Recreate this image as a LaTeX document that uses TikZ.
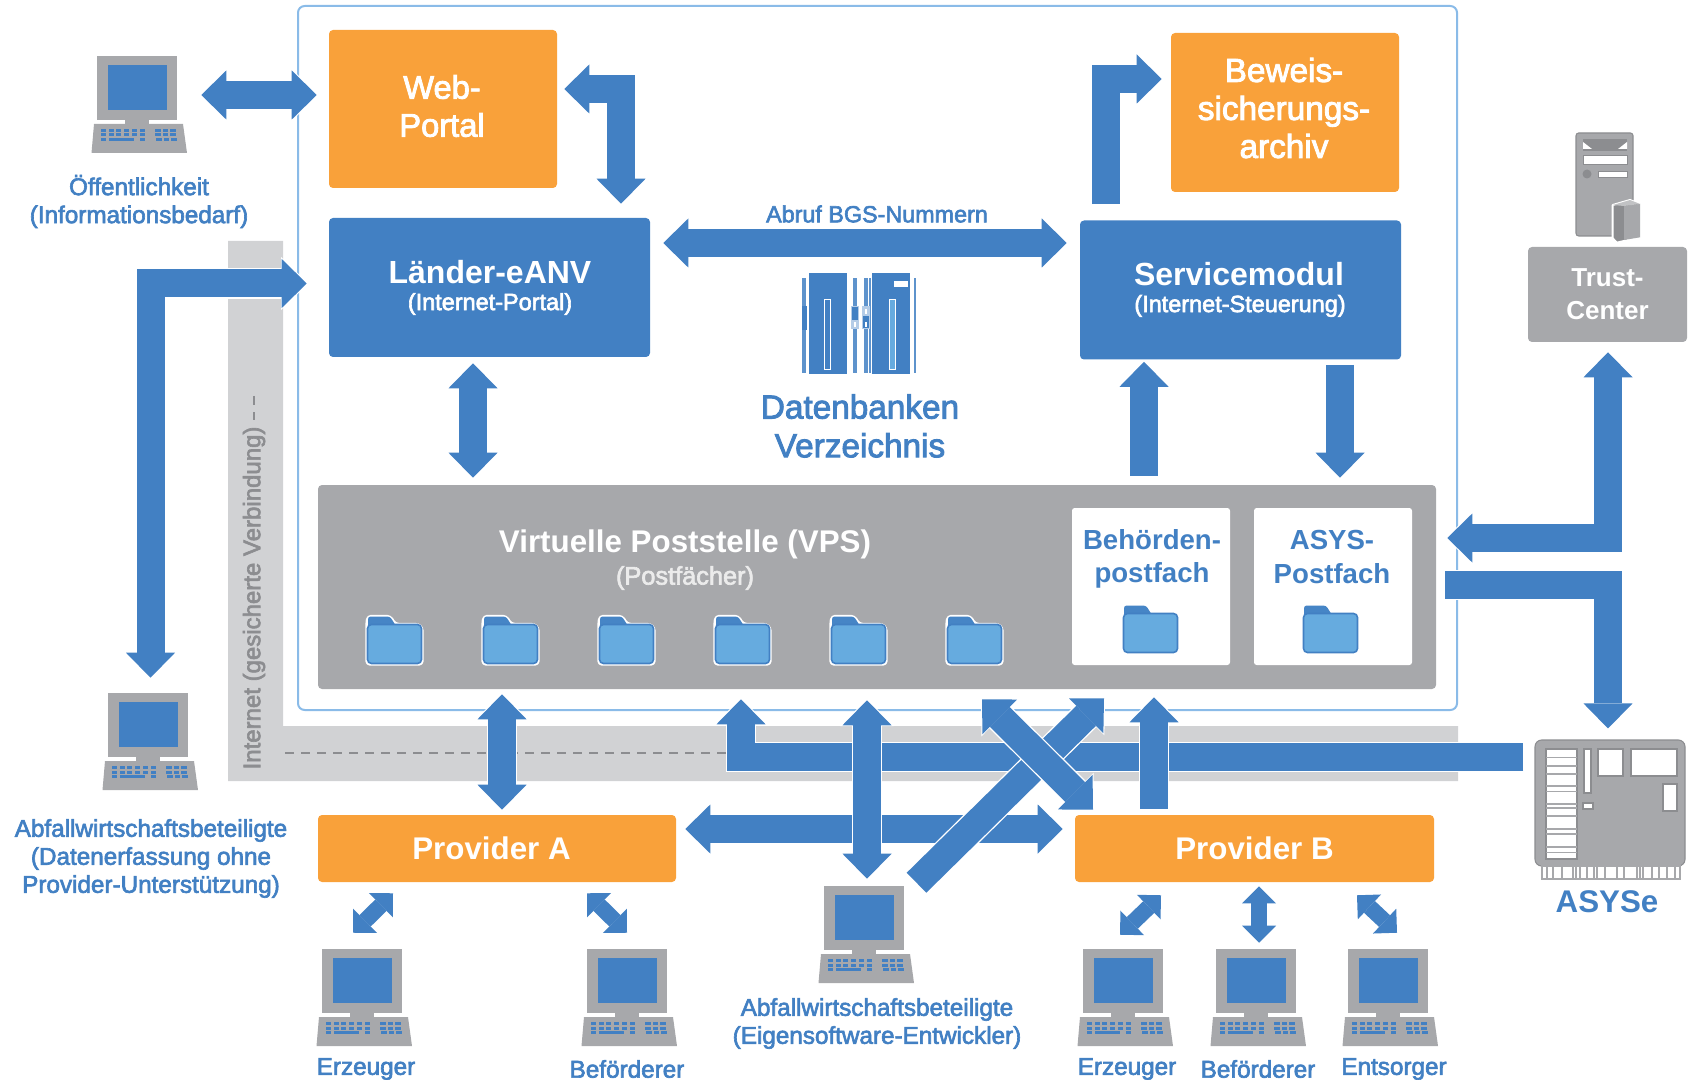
\documentclass[tikz,border=0pt]{standalone}
\usepackage{fontspec}
\setmainfont{Liberation Sans}
\newfontfamily\medfont[FakeBold=2.6]{Liberation Sans}
\usetikzlibrary{arrows.meta}
\definecolor{cblue}{HTML}{4280C3}
\definecolor{corange}{HTML}{F9A13A}
\definecolor{cgray}{HTML}{A7A8AB}
\definecolor{cband}{HTML}{D1D2D4}
\definecolor{cframe}{HTML}{8ABBE8}
\definecolor{cfolder}{HTML}{66ABDF}
\definecolor{cdark}{HTML}{8C8D90}
\tikzset{
  box/.style={inner sep=0pt,rounded corners=3pt,align=center,text=white},
  orangebox/.style={box,fill=corange},
  bluebox/.style={box,fill=cblue},
  graybox/.style={box,fill=cgray},
  whitebox/.style={inner sep=0pt,rounded corners=2pt,fill=white},
  ghost/.style={inner sep=0pt,minimum width=72pt,minimum height=72.75pt},
  lab/.style={inner sep=0pt,align=center,text=cblue},
  wlab/.style={inner sep=0pt,align=center,text=white},
  Bbase/.style={draw=cblue,line width=21pt,line join=miter,line cap=butt},
  bigbi/.style={Bbase,{Triangle[length=18.75pt,width=36.75pt,line width=0pt]}-{Triangle[length=18.75pt,width=36.75pt,line width=0pt]},
    preaction={draw=white,line width=23pt,shorten >=-1.2pt,shorten <=-1.2pt,{Triangle[length=20.5pt,width=40pt,line width=0pt]}-{Triangle[length=20.5pt,width=40pt,line width=0pt]}}},
  bigone/.style={Bbase,-{Triangle[length=18.75pt,width=36.75pt,line width=0pt]},
    preaction={draw=white,line width=23pt,shorten >=-1.2pt,-{Triangle[length=20.5pt,width=40pt,line width=0pt]}}},
  smallbi/.style={draw=cblue,line width=12pt,line join=miter,{Triangle[length=12.75pt,width=25.5pt,line width=0pt]}-{Triangle[length=12.75pt,width=25.5pt,line width=0pt]}},
}
\newcommand\Flab{\medfont\fontsize{18.2}{21}\selectfont}
\newcommand\pccomputer[3]{%
  \node[ghost] (#1) at (#2+42.5,#3+48.5) {};
  \begin{scope}[shift={(#2,#3)}]
    \fill[cgray] (0,0) rectangle (80,64);
    \fill[cblue] (10.5,9) rectangle (70,54);
    \fill[cgray] (28,64) rectangle (52,68);
    \fill[cgray] (-3,68) -- (86,68) -- (90,97) -- (-5.5,97) -- cycle;
    \foreach \yy in {73,77.5} {
      \foreach \xx in {4,11.7,19.4,27.1,34.8,42.5} {\fill[cblue] (\xx,\yy) rectangle +(5,3);}
      \foreach \xx in {58,65.5,73} {\fill[cblue] (\xx,\yy) rectangle +(5.5,3);}
    }
    \fill[cblue] (4,82) rectangle +(5,3);
    \fill[cblue] (11.7,82) rectangle +(25,3);
    \fill[cblue] (42.5,82) rectangle +(5,3);
    \foreach \xx in {59,66.5,74} {\fill[cblue] (\xx,82) rectangle +(5.5,3);}
  \end{scope}}
\newcommand\folderic[3]{%
  \begin{scope}[shift={(#1,#2)}]
    \ifnum#3=1
      \draw[white,line width=2.6pt,line join=round,fill=white,rounded corners=2.5pt]
        (2,9) -- (3,1.5) -- (25,1.5) -- (30,9.5) -- (53,9.5) -- (57,13) -- (57,49) -- (2,49) -- cycle;
    \fi
    \fill[cblue!88!cfolder,rounded corners=2pt] (3,14) -- (3,1.5) -- (25,1.5) -- (31,11) -- (3,14) -- cycle;
    \draw[cblue,fill=cfolder,line width=1.2pt,rounded corners=3pt] (2.5,9.5) rectangle (56.5,48.5);
  \end{scope}}
\begin{document}
\begin{tikzpicture}[x=0.75pt,y=-0.75pt]
\useasboundingbox (0,0) rectangle (1688,1080);
% band
\fill[cband] (228,241) -- (283,241) -- (283,726) -- (1458,726) -- (1458,781) -- (228,781) -- cycle;
\draw[cdark,line width=1pt,dash pattern=on 6.5pt off 5.5pt] (285,753) -- (727,753);
\draw[cdark,line width=1pt,dash pattern=on 6.5pt off 5.5pt] (254,396) -- (254,420);
\node[inner sep=0pt,rotate=90,text=cdark,font=\medfont\fontsize{18}{21}\selectfont] (inet) at (254,598) {Internet (gesicherte Verbindung)};
% frame
\draw[cframe,line width=1.5pt,rounded corners=5pt] (298,6) rectangle (1457,710);
% boxes
\node[orangebox,minimum width=171pt,minimum height=118.5pt] (web) at (443,109) {};
\node[wlab,font=\medfont\fontsize{24.5}{28.5}\selectfont] (webt) at (442,106) {Web-\\Portal};
\node[orangebox,minimum width=171pt,minimum height=119.25pt] (beweis) at (1285,112.5) {};
\node[wlab,font=\medfont\fontsize{25}{28.5}\selectfont] (beweist) at (1284,108) {Beweis-\\sicherungs-\\archiv};
\node[bluebox,minimum width=240.75pt,minimum height=104.25pt] (laender) at (489.5,287.5) {};
\node[wlab,font=\bfseries\fontsize{24}{28}\selectfont] (laendert) at (490,272) {Länder-eANV};
\node[wlab,font=\medfont\fontsize{17.6}{20}\selectfont] (laenders) at (490,304) {(Internet-Portal)};
\node[bluebox,minimum width=240.75pt,minimum height=104.25pt] (service) at (1240.5,290) {};
\node[wlab,font=\bfseries\fontsize{24}{28}\selectfont] (servicet) at (1239,274) {Servicemodul};
\node[wlab,font=\medfont\fontsize{17.6}{20}\selectfont] (services) at (1240,306) {(Internet-Steuerung)};
\node[graybox,minimum width=119.25pt,minimum height=71.25pt,font=\bfseries\fontsize{19.5}{24.5}\selectfont,text=white] (trust) at (1607.5,294.5) {Trust-\\Center};
\node[graybox,minimum width=838.5pt,minimum height=153pt] (vps) at (877,587) {};
\node[whitebox,minimum width=118.5pt,minimum height=117.75pt] (behoerden) at (1151,586.5) {};
\node[whitebox,minimum width=118.5pt,minimum height=117.75pt] (asys) at (1333,586.5) {};
\node[orangebox,minimum width=268.5pt,minimum height=50.25pt] (provA) at (497,848.5) {};
\node[wlab,font=\bfseries\fontsize{23.5}{28}\selectfont] (provAt) at (491.5,848) {Provider A};
\node[orangebox,minimum width=269.25pt,minimum height=50.25pt,font=\bfseries\fontsize{23.5}{28}\selectfont] (provB) at (1254.5,848.5) {Provider B};
% VPS text
\node[inner sep=0pt,text=white,font=\bfseries\fontsize{23.5}{28}\selectfont] (vpst) at (685,544.5) {Virtuelle Poststelle (VPS)};
\node[inner sep=0pt,text=white!92!black,font=\medfont\fontsize{19}{23}\selectfont] (vpss) at (685,578) {(Postfächer)};
\node[lab,font=\bfseries\fontsize{20.7}{25}\selectfont] (behl) at (1152,559) {Behörden-\\postfach};
\node[lab,font=\bfseries\fontsize{20.7}{25}\selectfont] (asyl) at (1332,557) {ASYS-\\Postfach};
% folders
\foreach \fx in {365,481,597,713,829,945} {\folderic{\fx}{615}{1}}
\folderic{1121}{604}{0}
\folderic{1301}{604}{0}
% database icon
\fill[cblue] (809,273) rectangle (847,374);
\fill[cblue] (872,273) rectangle (910,374);
\draw[white,line width=1pt] (824.5,299.5) rectangle (830.5,369.5);
\draw[white,line width=1pt,fill=cfolder] (889.5,299.5) rectangle (895.5,369.5);
\fill[white] (894,281) rectangle (908,287);
\foreach \sx/\sw in {802/3.5,853/3.5,864/3.5,869/2,914/1.5} {\fill[cblue!85] (\sx,278) rectangle +(\sw,95);}
\fill[cblue] (802,306) rectangle (807,330);
\fill[white!60!cblue] (851,306) rectangle (858.5,329);
\fill[cblue] (852,307) rectangle (857.5,320);
\fill[white] (853.5,322) rectangle (856,327);
\fill[white!60!cblue] (862,306) rectangle (869.5,329);
\fill[cblue] (863,316) rectangle (868.5,328);
\fill[white] (864.5,309) rectangle (867,314);
\fill[white] (864.5,322) rectangle (867,327);
% server icon
\node[inner sep=0pt,minimum width=42.75pt,minimum height=77.25pt,fill=cgray,draw=cdark,line width=.8pt,rounded corners=2pt] (server) at (1604.5,184.5) {};
\fill[cdark] (1583,139) rectangle (1627,151);
\fill[white] (1583,142) -- (1592,149) -- (1583,149) -- cycle;
\fill[white] (1627,142) -- (1618,149) -- (1627,149) -- cycle;
\draw[cdark,fill=white,line width=.6pt] (1583,155) rectangle (1627,164.5);
\fill[cdark] (1587,174) circle[radius=4.5];
\draw[cdark,fill=white,line width=.6pt] (1598,171) rectangle (1627,177);
\draw[white,line width=1.5pt,fill=cdark,line join=round] (1612.7,205) -- (1630,200) -- (1640,204) -- (1640,237.3) -- (1616.7,242.7) -- (1612.7,238.3) -- cycle;
\fill[cgray] (1624,206) -- (1640,204) -- (1640,237.3) -- (1624,240) -- cycle;
\fill[cgray!70] (1613,205) -- (1630,200) -- (1640,204) -- (1624,206) -- cycle;
% asyse icon
\node[inner sep=0pt,minimum width=112.5pt,minimum height=94.5pt,fill=cgray,draw=cdark,line width=.8pt,rounded corners=5pt] (asyse) at (1610,803) {};
\fill[white] (1546,749) rectangle (1577,859);
\draw[cdark,line width=.8pt] (1546,749) rectangle (1577,859);
\foreach \ly in {757.5,766,774,786,791.5,804,808,816,829,834,847,852.5} {\draw[cgray,line width=.9pt] (1546,\ly) -- (1577,\ly);}
\draw[cdark,fill=white,line width=.8pt] (1584,749) rectangle (1591,793);
\draw[cdark,fill=white,line width=.8pt] (1583,803) rectangle (1593,809);
\draw[cdark,fill=white,line width=.8pt] (1598,749) rectangle (1623,776);
\draw[cdark,fill=white,line width=.8pt] (1631,749) rectangle (1677,776);
\draw[cdark,fill=white,line width=.8pt] (1663,784) rectangle (1677,811);
\draw[cgray,line width=.9pt] (1542,866) rectangle (1680,879);
\foreach \px in {1547,1553,1562,1573,1576,1580,1587,1594,1597,1605,1617,1624,1637,1640,1643,1652,1659,1667,1675} {\draw[cgray,line width=.9pt] (\px,866) -- (\px,879);}
\node[lab,font=\bfseries\fontsize{23.5}{28}\selectfont] (asyt) at (1607,902) {ASYSe};
% computers
\pccomputer{pc1}{97}{56}
\pccomputer{pc2}{108}{693}
\pccomputer{pc3}{322}{949}
\pccomputer{pc4}{587}{949}
\pccomputer{pc5}{824}{886}
\pccomputer{pc6}{1083}{949}
\pccomputer{pc7}{1216}{949}
\pccomputer{pc8}{1348}{949}
% labels
\node[lab,font=\Flab] (l1) at (139,201.5) {Öffentlichkeit\\(Informationsbedarf)};
\node[lab,font=\Flab] (l2) at (151,858.5) {Abfallwirtschaftsbeteiligte\\(Datenerfassung ohne\\Provider-Unterstützung)};
\node[lab,font=\Flab] (l3) at (877,1023.5) {Abfallwirtschaftsbeteiligte\\(Eigensoftware-Entwickler)};
\node[lab,font=\Flab] (l4) at (366,1069) {Erzeuger};
\node[lab,font=\Flab] (l5) at (627,1069) {Beförderer};
\node[lab,font=\Flab] (l6) at (1127,1069) {Erzeuger};
\node[lab,font=\Flab] (l7) at (1258,1069) {Beförderer};
\node[lab,font=\Flab] (l8) at (1394,1069) {Entsorger};
\node[lab,font=\medfont\fontsize{17.5}{21}\selectfont] (abruf) at (877,214) {Abruf BGS-Nummern};
\node[lab,font=\medfont\fontsize{25}{29}\selectfont] (db) at (860,426) {Datenbanken\\Verzeichnis};
% connectors upper
\draw[bigbi] ([shift={(13.5,-9.5)}]pc1.east) -- ([shift={(-12,-14)}]web.west);
\draw[bigbi] ([shift={(7,-20)}]web.east) -| ([shift={(131.5,-14)}]laender.north);
\draw[bigbi] ([shift={(13,-44.5)}]laender.east) -- ([shift={(-13,-47)}]service.west);
\draw[bigbi] ([shift={(-16.5,6)}]laender.south) -- ([shift={(-404,-7)}]vps.north);
\draw[bigone] ([shift={(-135,-16)}]service.north) |- ([shift={(-9,-33.5)}]beweis.west);
\draw[bigone] ([shift={(267,-9)}]vps.north) -- ([shift={(-96.5,2)}]service.south);
\draw[bigone] ([shift={(99.5,5)}]service.south) -- ([shift={(463,-7)}]vps.north);
\draw[bigbi] ([shift={(-22,-4)}]laender.west) -| ([shift={(0,-15)}]pc2.north);
\draw[bigbi] ([shift={(11,-49)}]vps.east) -| ([shift={(0.5,10)}]trust.south);
\draw[bigone] ([shift={(9,-2)}]vps.east) -| ([shift={(-2,-11)}]asyse.north);
% connectors lower
\draw[bigbi] ([shift={(9,-19.5)}]provA.east) -- ([shift={(-12,-19.5)}]provB.west);
\draw[bigone] ([shift={(-11,-46)}]asyse.west) -| ([shift={(-136,10)}]vps.south);
\draw[bigbi] ([shift={(-10,11)}]vps.south) -- ([shift={(0.5,-7)}]pc5.north);
\draw[bigbi] ([shift={(-375,5)}]vps.south) -- ([shift={(5,-5)}]provA.north);
\draw[bigone] ([shift={(50,-3)}]pc5.north) -- ([shift={(227,9)}]vps.south);
\draw[bigbi] ([shift={(105,10)}]vps.south) -- ([shift={(-161.5,-5)}]provB.north);
\draw[bigone] ([shift={(-100.5,-6)}]provB.north) -- ([shift={(277,8)}]vps.south);
% small
\draw[smallbi] ([shift={(-104,11)}]provA.south) -- ([shift={(-11.5,-16)}]pc3.north);
\draw[smallbi] ([shift={(90,11)}]provA.south) -- ([shift={(-2.5,-16)}]pc4.north);
\draw[smallbi] ([shift={(-93.5,13)}]provB.south) -- ([shift={(-5.5,-14)}]pc6.north);
\draw[smallbi] ([shift={(4.5,4)}]provB.south) -- ([shift={(0.5,-6)}]pc7.north);
\draw[smallbi] ([shift={(102.5,13)}]provB.south) -- ([shift={(6.5,-16)}]pc8.north);
\end{tikzpicture}
\end{document}
